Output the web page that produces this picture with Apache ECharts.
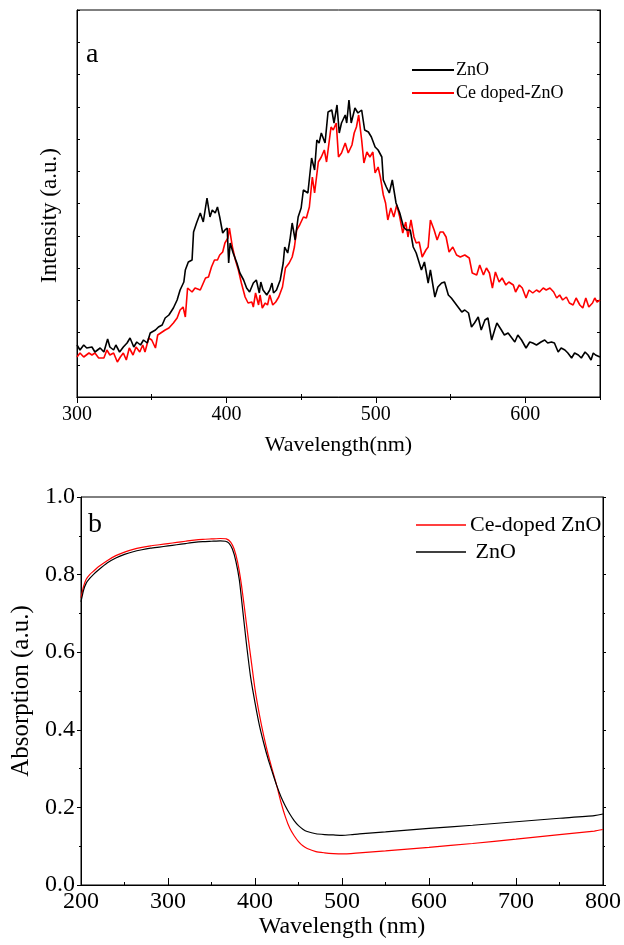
<!DOCTYPE html>
<html>
<head>
<meta charset="utf-8">
<script src="https://cdn.jsdelivr.net/npm/echarts@6/dist/echarts.min.js"></script>
<style>
  html, body { margin: 0; padding: 0; background: #fff; }
  #chart { width: 624px; height: 945px; }
</style>
</head>
<body>
<div id="chart"></div>
<script>
const FONT = "'Liberation Serif', 'Times New Roman', serif";

// (a) photoluminescence spectra: [wavelength (nm), intensity (a.u.)]
const plZnO = [
  [300,52],[302,47],[304.5,52],[306.5,49],[310,50],[312,45],[315.5,49],[318,45],[320.5,58],[322,50],
  [324.5,47],[326,52],[328.5,45],[331,50],[333.5,54],[335.5,59],[338,50],[340,55],[342.5,52],[344.5,57],
  [347,54],[349,64],[352.5,67],[354.5,70],[357,72],[359,79],[361.5,82],[364.5,89],[367,97],[369,107],
  [371.5,115],[372.5,127],[374.5,135],[377,137],[378,165],[380,174],[382.5,184],[384.5,175],[387,199],[389,180],
  [390.5,187],[392.5,184],[394,190],[395.5,180],[397.5,164],[399,167],[400.5,169],[401.5,134],[402.5,154],[404.5,144],
  [407,134],[409,124],[411.5,117],[413.5,109],[415.5,105],[418,114],[420,117],[422,104],[423,115],[424.5,107],
  [427,102],[429,107],[430.5,114],[431.5,104],[433.5,107],[436,117],[438,134],[439,150],[441,144],[442.5,157],
  [444,174],[446,157],[448,180],[450,189],[451.5,207],[454.5,204],[457,239],[459,227],[460.5,257],[462,254],
  [463.5,264],[466,254],[468,285],[470.5,287],[472,274],[474,292],[475.5,264],[477,274],[479.5,282],[480.5,274],
  [482,297],[483.5,274],[486,289],[488,284],[490.5,287],[492.5,267],[495,265],[497,260],[499.5,250],[501.5,247],
  [504,240],[505,217],[507,210],[509,204],[511,217],[513.5,194],[516,184],[518.5,170],[520.5,167],[523,167],
  [525,150],[527,144],[530.5,127],[532.5,135],[535,114],[536.5,127],[539.5,100],[541.5,110],[544,114],[546,115],
  [548.5,102],[550.5,99],[553,94],[555,90],[557.5,85],[559.5,87],[562,84],[564,70],[566,74],[568.5,80],
  [570.5,67],[573,77],[575,79],[577.5,57],[579.5,67],[581,74],[584,67],[586,62],[588.5,64],[590.5,60],
  [593,55],[595,62],[597.5,57],[600.5,49],[603,55],[605,54],[607.5,52],[610.5,55],[613,57],[615,54],
  [617.5,55],[619.5,54],[622,45],[624,49],[626.5,47],[628.5,44],[631,39],[633,44],[635.5,42],[637.5,39],
  [640,45],[642,42],[644,37],[645.5,44],[647,42],[650,40]
];
const plCeZnO = [
  [300,40],[302,44],[304.5,40],[308,44],[310,42],[312,44],[314.5,39],[318,39],[320,47],[322,42],
  [324.5,44],[327,35],[329,40],[331,44],[333,37],[335,49],[337.5,42],[339.5,50],[342,45],[344,52],
  [345.5,45],[348,59],[350,57],[352.5,49],[354,62],[357,65],[359,67],[361.5,69],[364.5,74],[367,79],
  [369,87],[371,90],[372.5,80],[374,109],[377,105],[379,109],[382.5,107],[386,119],[388,120],[390,130],
  [392,137],[394,137],[395.5,142],[397.5,145],[399,154],[401,159],[402,169],[404,150],[406,137],[408,127],
  [410,114],[412.5,100],[414.5,94],[417,95],[418,90],[419.5,104],[421.5,92],[422.5,102],[424,89],[426,94],
  [427.5,92],[429,102],[431,92],[433,95],[435,100],[437.5,110],[439.5,129],[442,134],[444,140],[445.5,150],
  [447,167],[449,172],[451.5,180],[453.5,179],[455.5,190],[457.5,220],[459,204],[461.5,235],[463.5,240],[465.5,247],
  [467,235],[470,270],[471.5,267],[473.5,274],[475,240],[477,244],[479.5,254],[481.5,244],[484,252],[485.5,264],
  [487,270],[488.5,282],[490.5,257],[492,234],[494,245],[496,240],[498,245],[499.5,224],[501.5,230],[503,220],
  [505,202],[506.5,194],[508,177],[510,189],[512,180],[514,192],[516,180],[518,164],[520,175],[521.5,160],
  [523.5,177],[525.5,160],[527,154],[529,155],[531,140],[533.5,147],[535,150],[536.5,177],[539,167],[541,157],
  [543,165],[545,165],[547,160],[549,145],[551.5,150],[554,142],[556.5,140],[559.5,142],[562.5,139],[564.5,124],
  [567.5,122],[569.5,132],[572,122],[574,129],[576,124],[578,109],[580,125],[582.5,115],[584.5,119],[587,112],
  [589,115],[592,112],[593.5,105],[596,112],[598,109],[600.5,99],[602.5,107],[605,104],[607.5,107],[609.5,105],
  [612,109],[614,107],[616.5,109],[619,105],[621,99],[623,102],[625,97],[627.5,100],[629.5,94],[632,92],
  [634,99],[636.5,92],[638.5,89],[640.5,99],[642.5,90],[645,94],[646.5,99],[648,95],[650,97]
];

// (b) UV-vis absorption spectra: [wavelength (nm), absorption (a.u.)]
const absCeZnO = [
  [200,0.740],[203,0.770],[206,0.788],[210,0.800],[215,0.810],[220,0.820],[230,0.836],[240,0.849],[250,0.858],
  [260,0.865],[270,0.870],[280,0.874],[290,0.877],[300,0.880],[310,0.883],[320,0.886],[330,0.889],[340,0.891],
  [350,0.892],[360,0.893],[367,0.892],[372,0.884],[376,0.866],[380,0.832],[384,0.780],[388,0.712],[392,0.640],
  [396,0.572],[400,0.505],[405,0.440],[410,0.385],[415,0.337],[420,0.296],[425,0.256],[430,0.212],[435,0.175],
  [440,0.146],[445,0.127],[450,0.112],[455,0.101],[460,0.094],[470,0.086],[480,0.083],[490,0.081],[500,0.080],
  [520,0.083],[550,0.088],[600,0.097],[650,0.107],[700,0.118],[750,0.130],[790,0.139],[800,0.143]
];
const absZnO = [
  [200,0.730],[203,0.760],[206,0.778],[210,0.790],[215,0.802],[220,0.812],[230,0.830],[240,0.843],[250,0.852],
  [260,0.859],[270,0.864],[280,0.868],[290,0.871],[300,0.874],[310,0.877],[320,0.880],[330,0.883],[340,0.885],
  [350,0.886],[360,0.887],[366,0.886],[370,0.881],[374,0.866],[378,0.835],[382,0.786],[386,0.706],[390,0.625],
  [395,0.535],[400,0.470],[405,0.412],[410,0.366],[415,0.325],[420,0.290],[425,0.256],[430,0.227],[435,0.203],
  [440,0.183],[445,0.166],[450,0.153],[455,0.144],[460,0.138],[470,0.132],[480,0.130],[490,0.129],[500,0.128],
  [510,0.1295],[520,0.132],[550,0.137],[600,0.146],[650,0.154],[700,0.163],[750,0.172],[790,0.179],[800,0.183]
];

// axis tick values
const plMajorTicks = [300, 400, 500, 600];
const plMinorTicks = [350, 450, 550];
const absXTicks = [200, 300, 400, 500, 600, 700, 800];
const absYTicks = [0, 0.2, 0.4, 0.6, 0.8, 1.0];

const plMax = 387, plStep = 32.25;

const txt = (size) => ({ color: '#000', fontFamily: FONT, fontSize: size, fontWeight: 'normal' });
const blackLine = { color: '#000', width: 1 };
const noLabel = { show: false };
const noSplit = { show: false };

const chart = echarts.init(document.getElementById('chart'), null, { renderer: 'canvas' });

chart.setOption({
  animation: false,
  backgroundColor: '#fff',
  title: [
    { text: 'a', left: 86, top: 41, padding: 0, textStyle: txt(28) },
    { text: 'b', left: 88, top: 511, padding: 0, textStyle: txt(28) }
  ],
  legend: [
    {
      data: ['ZnO', 'Ce doped-ZnO'],
      orient: 'vertical', left: 412, top: 60, padding: 0,
      icon: 'rect', itemWidth: 42, itemHeight: 2, itemGap: 3,
      selectedMode: false,
      textStyle: Object.assign(txt(18), { lineHeight: 20, padding: [0, 0, 0, -3] })
    },
    {
      data: ['Ce-doped ZnO', 'ZnO'],
      orient: 'vertical', left: 416, top: 514, padding: 0,
      icon: 'rect', itemWidth: 50, itemHeight: 1.6, itemGap: 5,
      selectedMode: false,
      formatter: (n) => (n === 'ZnO' ? ' ' + n : n),
      textStyle: Object.assign(txt(22), { lineHeight: 22, padding: [0, 0, 0, -1] })
    }
  ],
  grid: [
    { left: 77, top: 10, width: 523, height: 387, show: true, borderColor: '#000', borderWidth: 1, backgroundColor: 'transparent' },
    { left: 81, top: 497, width: 525, height: 388, show: true, borderColor: '#000', borderWidth: 1, backgroundColor: 'transparent' },
    // overlay of the first panel, carrying the inward minor ticks on its bottom edge
    { left: 77, top: 10, width: 523, height: 387, show: false }
  ],
  xAxis: [
    {
      gridIndex: 0, type: 'value', position: 'bottom', min: 300, max: 650,
      axisLine: { show: true, lineStyle: blackLine },
      axisTick: { show: true, inside: false, length: 6, customValues: plMajorTicks, lineStyle: blackLine },
      axisLabel: { customValues: plMajorTicks, margin: 8, ...txt(20) },
      splitLine: noSplit,
      name: 'Wavelength(nm)', nameLocation: 'middle', nameGap: 37, nameTextStyle: txt(22)
    },
    {
      gridIndex: 0, type: 'value', position: 'top', min: 300, max: 650, interval: 50,
      axisLine: { show: true, lineStyle: blackLine },
      axisTick: { show: true, inside: true, length: 3, lineStyle: blackLine },
      axisLabel: noLabel, splitLine: noSplit
    },
    {
      gridIndex: 2, type: 'value', position: 'bottom', min: 300, max: 650,
      axisLine: { show: false },
      axisTick: { show: true, inside: true, length: 3, customValues: plMinorTicks, lineStyle: blackLine },
      axisLabel: noLabel, splitLine: noSplit
    },
    {
      gridIndex: 1, type: 'value', position: 'bottom', min: 200, max: 800, interval: 100,
      axisLine: { show: true, lineStyle: blackLine },
      axisTick: { show: true, inside: true, length: 7, lineStyle: blackLine },
      minorTick: { show: true, splitNumber: 2, length: 3, lineStyle: blackLine },
      axisLabel: { customValues: absXTicks, margin: 5, ...txt(24) },
      splitLine: noSplit,
      name: 'Wavelength (nm)', nameLocation: 'middle', nameGap: 27, nameTextStyle: txt(24)
    }
  ],
  yAxis: [
    {
      gridIndex: 0, type: 'value', position: 'left', min: 0, max: plMax, interval: plStep,
      axisLine: { show: true, lineStyle: blackLine },
      axisTick: { show: true, inside: true, length: 3, lineStyle: blackLine },
      axisLabel: noLabel, splitLine: noSplit,
      name: 'Intensity (a.u.)', nameLocation: 'middle', nameGap: 16,
      nameTextStyle: Object.assign(txt(23), { padding: [0, 24, 0, 0] })
    },
    {
      gridIndex: 0, type: 'value', position: 'right', min: 0, max: plMax, interval: plStep,
      axisLine: { show: true, lineStyle: blackLine },
      axisTick: { show: true, inside: true, length: 3, lineStyle: blackLine },
      axisLabel: noLabel, splitLine: noSplit
    },
    {
      gridIndex: 2, type: 'value', min: 0, max: plMax, show: false
    },
    {
      gridIndex: 1, type: 'value', position: 'left', min: 0, max: 1, interval: 0.2,
      axisLine: { show: true, lineStyle: blackLine },
      axisTick: { show: true, inside: false, length: 4, lineStyle: blackLine },
      minorTick: { show: true, splitNumber: 2, length: 2, lineStyle: blackLine },
      axisLabel: { customValues: absYTicks, margin: 6, formatter: (v) => v.toFixed(1), ...txt(24) },
      splitLine: noSplit,
      name: 'Absorption (a.u.)', nameLocation: 'middle', nameGap: 45, nameTextStyle: txt(25)
    },
    {
      gridIndex: 1, type: 'value', position: 'right', min: 0, max: 1, interval: 0.2,
      axisLine: { show: true, lineStyle: blackLine },
      axisTick: { show: true, inside: false, length: 3, lineStyle: blackLine },
      minorTick: { show: true, splitNumber: 2, length: 2, lineStyle: blackLine },
      axisLabel: noLabel, splitLine: noSplit
    }
  ],
  series: [
    {
      name: 'ZnO', type: 'line', xAxisIndex: 0, yAxisIndex: 0, data: plZnO,
      symbol: 'none', lineStyle: { color: '#000', width: 1.6 }, itemStyle: { color: '#000' }, z: 3
    },
    {
      name: 'Ce doped-ZnO', type: 'line', xAxisIndex: 0, yAxisIndex: 0, data: plCeZnO,
      symbol: 'none', lineStyle: { color: '#ff0000', width: 1.6 }, itemStyle: { color: '#ff0000' }, z: 2
    },
    {
      name: 'Ce-doped ZnO', type: 'line', xAxisIndex: 3, yAxisIndex: 3, data: absCeZnO,
      symbol: 'none', smooth: 0.2, lineStyle: { color: '#ff0000', width: 1.2 }, itemStyle: { color: '#ff0000' }
    },
    {
      name: 'ZnO', type: 'line', xAxisIndex: 3, yAxisIndex: 3, data: absZnO,
      symbol: 'none', smooth: 0.2, lineStyle: { color: '#000', width: 1.2 }, itemStyle: { color: '#000' }
    }
  ]
});
</script>
</body>
</html>
